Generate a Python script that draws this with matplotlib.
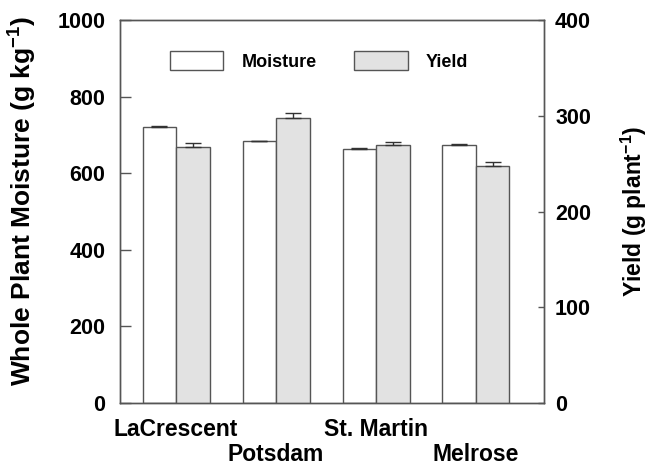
import matplotlib
matplotlib.use("Agg")
import matplotlib.pyplot as plt
from matplotlib.patches import Patch
import numpy as np

plt.rcParams['font.family'] = ['Liberation Sans', 'DejaVu Sans']
plt.rcParams['font.weight'] = 'bold'
plt.rcParams['axes.labelweight'] = 'bold'
plt.rcParams['mathtext.fontset'] = 'custom'
plt.rcParams['mathtext.rm'] = 'Liberation Sans:bold'
plt.rcParams['mathtext.bf'] = 'Liberation Sans:bold'
plt.rcParams['mathtext.default'] = 'bf'

# data
sites = ["LaCrescent", "Potsdam", "St. Martin", "Melrose"]
moisture = [721, 683, 662, 674]          # g kg-1
moisture_err = [2, 2, 3, 2]
yield_ = [267, 298, 269, 248]            # g plant-1
yield_err = [5, 5, 4, 4]

edge = "#555555"
grey_fill = "#e2e2e2"

x = np.arange(len(sites))
w = 0.335

fig = plt.figure(figsize=(6.49, 4.65), dpi=100)
ax = fig.add_axes([120/649, 1 - 403/465, 424/649, 383/465])
ax2 = ax.twinx()

ax.bar(x - w/2, moisture, w, color="white", edgecolor=edge, linewidth=1,
       yerr=[np.zeros(len(x)), moisture_err],
       error_kw=dict(ecolor="#333333", elinewidth=1, capsize=6, capthick=1))
ax2.bar(x + w/2, yield_, w, color=grey_fill, edgecolor=edge, linewidth=1,
        yerr=[np.zeros(len(x)), yield_err],
        error_kw=dict(ecolor="#333333", elinewidth=1, capsize=6, capthick=1))

ax.set_xlim(-0.56, 3.68)
ax.set_ylim(0, 1000)
ax2.set_ylim(0, 400)
ax.set_yticks([0, 200, 400, 600, 800, 1000])
ax2.set_yticks([0, 100, 200, 300, 400])

for a in (ax, ax2):
    for s in a.spines.values():
        s.set_color(edge)
        s.set_linewidth(1)

ax.tick_params(axis="y", direction="in", length=8, width=1, color=edge,
               pad=10.5, labelsize=15.5)
ax2.tick_params(axis="y", direction="in", length=4, width=1, color=edge,
                pad=8, labelsize=15.5)

# staggered site names under the bar pairs
ax.set_xticks(x)
ax.set_xticklabels(sites, fontsize=16.5)
ax.tick_params(axis="x", length=0)
for i, t in enumerate(ax.xaxis.get_major_ticks()):
    t.set_pad(10.5 if i % 2 == 0 else 29)

ax.set_ylabel(r"Whole Plant Moisture (g kg$^{-1}$)", fontsize=19)
ax.yaxis.set_label_coords(-0.19, 0.527)
ax2.set_ylabel(r"Yield (g plant$^{-1}$)", fontsize=16.5)
ax2.yaxis.set_label_coords(1.176, 0.5)

handles = [Patch(facecolor="white", edgecolor=edge, label="Moisture"),
           Patch(facecolor=grey_fill, edgecolor=edge, label="Yield")]
ax2.legend(handles=handles, loc="upper left", bbox_to_anchor=(0.118, 0.918),
           frameon=False, ncol=2, fontsize=13, handlelength=2.95,
           handleheight=1.2, handletextpad=1.0, columnspacing=2.1,
           borderpad=0, borderaxespad=0)

fig.savefig("out.png", dpi=100)
